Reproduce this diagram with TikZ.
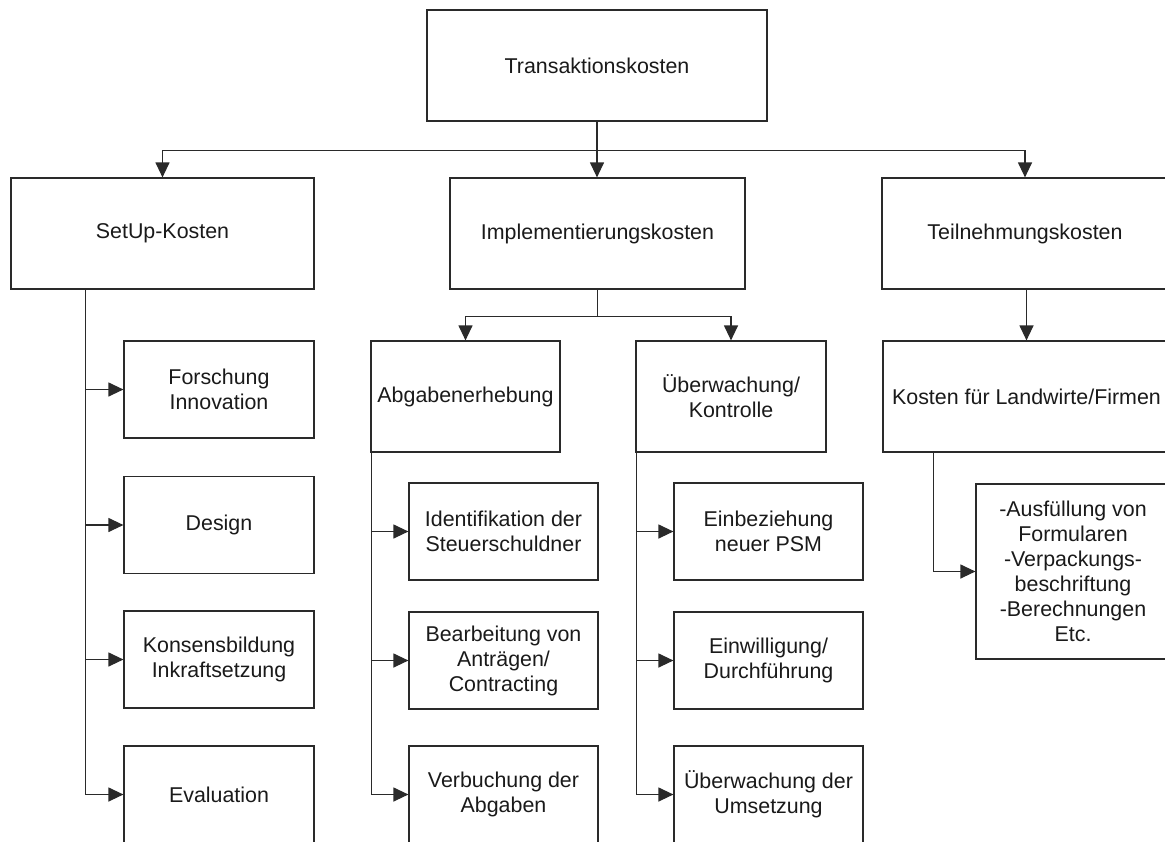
\documentclass[tikz,border=0pt]{standalone}
\usepackage{fontspec}
\setmainfont{Liberation Sans}
\usetikzlibrary{arrows.meta,calc}
\definecolor{lc}{HTML}{2A2A2A}
\definecolor{tc}{HTML}{1A1A1A}
\tikzset{
  box/.style={draw=lc, line width=1.2pt, rectangle, align=center, inner sep=0pt,
    text=tc, font=\fontsize{21.4}{25}\selectfont},
  arr/.style={draw=lc, line width=1.2pt, -{Triangle[length=15pt,width=14pt]}},
  ln/.style={draw=lc, line width=1.2pt}
}
\begin{document}
\begin{tikzpicture}[x=1pt,y=-1pt]
\clip (0,0) rectangle (1165,841);
\fill[white] (0,0) rectangle (1165,841);
% level 0
\node[box, minimum width=340pt, minimum height=111pt] (top) at (597,65.5) {Transaktionskosten};
% level 1
\node[box, minimum width=303pt, minimum height=111pt] (setup) at (162.5,233.5) {SetUp-Kosten};
\node[box, minimum width=295pt, minimum height=111pt] (impl) at (597.5,233.5) {Implementierungskosten};
\node[box, minimum width=286pt, minimum height=111pt] (teil) at (1025,233.5) {Teilnehmungskosten};
% level 2
\node[box, minimum width=189pt, minimum height=111pt] (abg) at (465.5,396.5) {Abgabenerhebung};
\node[box, minimum width=190pt, minimum height=111pt] (ueb) at (731,396.5) {Überwachung/\\Kontrolle};
\node[box, minimum width=287pt, minimum height=111pt] (kost) at (1026.5,396.5) {Kosten für Landwirte/Firmen};
% setup children
\node[box, minimum width=190pt, minimum height=97pt] (forsch) at (219,389.5) {Forschung\\Innovation};
\node[box, minimum width=190pt, minimum height=97pt] (design) at (219,525) {Design};
\node[box, minimum width=190pt, minimum height=97pt] (konsens) at (219,659.5) {Konsensbildung\\Inkraftsetzung};
\node[box, minimum width=190pt, minimum height=97pt] (eval) at (219,794.5) {Evaluation};
% abg children
\node[box, minimum width=189pt, minimum height=97pt] (ident) at (503.5,531.5) {Identifikation der\\Steuerschuldner};
\node[box, minimum width=189pt, minimum height=97pt] (bearb) at (503.5,660.5) {Bearbeitung von\\Anträgen/\\Contracting};
\node[box, minimum width=189pt, minimum height=97pt] (verb) at (503.5,794.5) {Verbuchung der\\Abgaben};
% ueb children
\node[box, minimum width=189pt, minimum height=97pt] (einb) at (768.5,531.5) {Einbeziehung\\neuer PSM};
\node[box, minimum width=189pt, minimum height=97pt] (einw) at (768.5,660.5) {Einwilligung/\\Durchführung};
\node[box, minimum width=189pt, minimum height=97pt] (uebu) at (768.5,794.5) {Überwachung der\\Umsetzung};
% kost child
\node[box, minimum width=194pt, minimum height=175pt] (ausf) at (1073,571.5) {-Ausfüllung von\\Formularen\\-Verpackungs-\\beschriftung\\-Berechnungen\\Etc.};
% connectors level 0 -> 1
\coordinate (b1) at ($(top.south)+(0,29)$);
\draw[arr] (top.south) -- (impl.north -| top.south);
\draw[arr] (b1) -| (setup.north);
\draw[arr] (b1) -| (teil.north);
% impl -> level 2
\coordinate (b2) at ($(impl.south)+(0,27)$);
\draw[ln] (impl.south) -- (b2);
\draw[arr] (b2) -| (abg.north);
\draw[arr] (b2) -| (ueb.north);
% teil -> kost
\draw[arr] (teil.south -| kost.north) -- (kost.north);
% setup children
\coordinate (s0) at ($(setup.south west)+(75,0)$);
\draw[arr] (s0) |- (eval.west);
\draw[arr] (s0 |- forsch.west) -- (forsch.west);
\draw[arr] (s0 |- design.west) -- (design.west);
\draw[arr] (s0 |- konsens.west) -- (konsens.west);
% abg children
\coordinate (a0) at ($(abg.south west)+(1,-37)$);
\draw[arr] (a0) |- (verb.west);
\draw[arr] (a0 |- ident.west) -- (ident.west);
\draw[arr] (a0 |- bearb.west) -- (bearb.west);
% ueb children
\coordinate (u0) at ($(ueb.south west)+(1,0)$);
\draw[arr] (u0) |- (uebu.west);
\draw[arr] (u0 |- einb.west) -- (einb.west);
\draw[arr] (u0 |- einw.west) -- (einw.west);
% kost child
\coordinate (k0) at ($(kost.south west)+(51,0)$);
\draw[arr] (k0) |- (ausf.west);
\end{tikzpicture}
\end{document}
